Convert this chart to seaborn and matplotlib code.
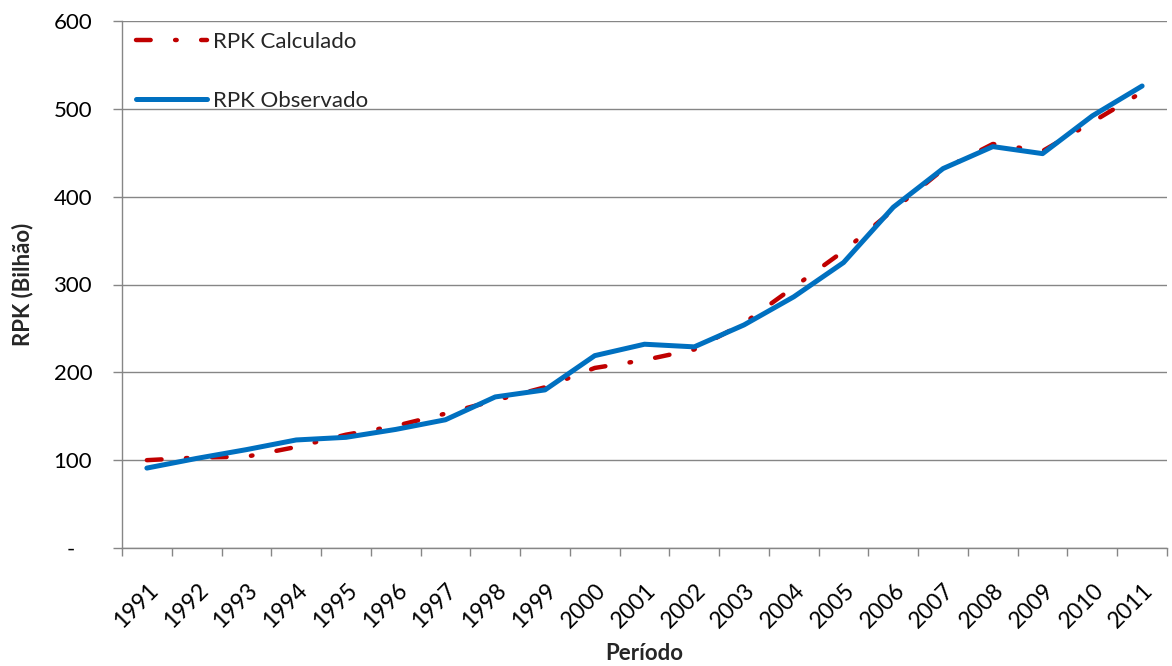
import numpy as np
import pandas as pd
import matplotlib
matplotlib.use("Agg")
import matplotlib.pyplot as plt
import matplotlib.transforms as mtransforms
import seaborn as sns
from matplotlib.ticker import FixedLocator, FixedFormatter

# ---- data ----
anos = ["1991", "1992", "1993", "1994", "1995", "1996", "1997", "1998", "1999", "2000",
        "2001", "2002", "2003", "2004", "2005", "2006", "2007", "2008", "2009", "2010", "2011"]
rpk_calculado = [100, 103, 104, 115, 129, 139, 153, 168, 183, 205,
                 214, 226, 256, 297, 338, 385, 431, 460, 452, 485, 519]
rpk_observado = [91, 102, 112, 123, 126, 135, 146, 172, 180, 219,
                 232, 229, 254, 286, 325, 388, 432, 457, 449, 492, 526]
y_ticks = [0, 100, 200, 300, 400, 500, 600]
y_tick_labels = ["-   ", "100", "200", "300", "400", "500", "600"]
serie_labels = ["RPK Calculado", "RPK Observado"]

# ---- style ----
sns.set_style("white")
plt.rcParams["font.family"] = ["Lato", "DejaVu Sans"]

GRID = "#868686"
RED = "#C00000"
BLUE = "#0070C0"

fig = plt.figure(figsize=(11.72, 6.66), dpi=100)
ax = fig.add_axes([122 / 1172, 1 - 548 / 666, (1167 - 122) / 1172, (548 - 21) / 666])

pos = np.arange(len(anos))
df = pd.DataFrame({"pos": pos, "calc": rpk_calculado, "obs": rpk_observado})

sns.lineplot(data=df, x="pos", y="calc", ax=ax, color=RED, linewidth=3.2,
             linestyle=(0, (3.3, 5.5, 0.35, 5.5)), dash_capstyle="round",
             label=serie_labels[0])
sns.lineplot(data=df, x="pos", y="obs", ax=ax, color=BLUE, linewidth=3.6,
             solid_capstyle="round", solid_joinstyle="round", label=serie_labels[1])

ax.set_xlim(-0.5, len(anos) - 0.5)
ax.set_ylim(0, 600)

# y axis
ax.yaxis.set_major_locator(FixedLocator(y_ticks))
ax.yaxis.set_major_formatter(FixedFormatter(y_tick_labels))
ax.tick_params(axis="y", which="major", direction="out", length=6.5, width=1.0,
               color=GRID, pad=15, labelsize=16, labelcolor="black", left=True)
ax.grid(axis="y", color=GRID, linewidth=1.0)
ax.set_axisbelow(True)

# x axis: labels at centres, tick marks at boundaries
ax.xaxis.set_major_locator(FixedLocator(pos))
ax.xaxis.set_major_formatter(FixedFormatter(anos))
ax.xaxis.set_minor_locator(FixedLocator(np.arange(-0.5, len(anos), 1.0)))
ax.tick_params(axis="x", which="major", length=0, pad=28, labelsize=16.5, labelcolor="black")
ax.tick_params(axis="x", which="minor", direction="out", length=6, width=1.0,
               color=GRID, bottom=True)
offset = mtransforms.ScaledTranslation(8 / 100, 0, fig.dpi_scale_trans)
for lbl in ax.get_xticklabels():
    lbl.set_rotation(45)
    lbl.set_ha("right")
    lbl.set_va("center")
    lbl.set_rotation_mode("anchor")
    lbl.set_transform(lbl.get_transform() + offset)

for s in ["top", "right"]:
    ax.spines[s].set_visible(False)
for s in ["left", "bottom"]:
    ax.spines[s].set_color(GRID)
    ax.spines[s].set_linewidth(1.0)

ax.set_xlabel("Período", fontsize=16, fontweight="bold")
ax.set_ylabel("RPK (Bilhão)", fontsize=16, fontweight="bold")
ax.xaxis.set_label_coords(0.5, -0.18)
ax.yaxis.set_label_coords(-0.085, 0.5)

leg = ax.legend(loc="upper left", bbox_to_anchor=(0.003, 1.0), frameon=False,
                fontsize=16, handlelength=3.2, handletextpad=0.25, labelspacing=1.75,
                borderaxespad=0.3, borderpad=0.2)

fig.savefig("out.png", dpi=100)
